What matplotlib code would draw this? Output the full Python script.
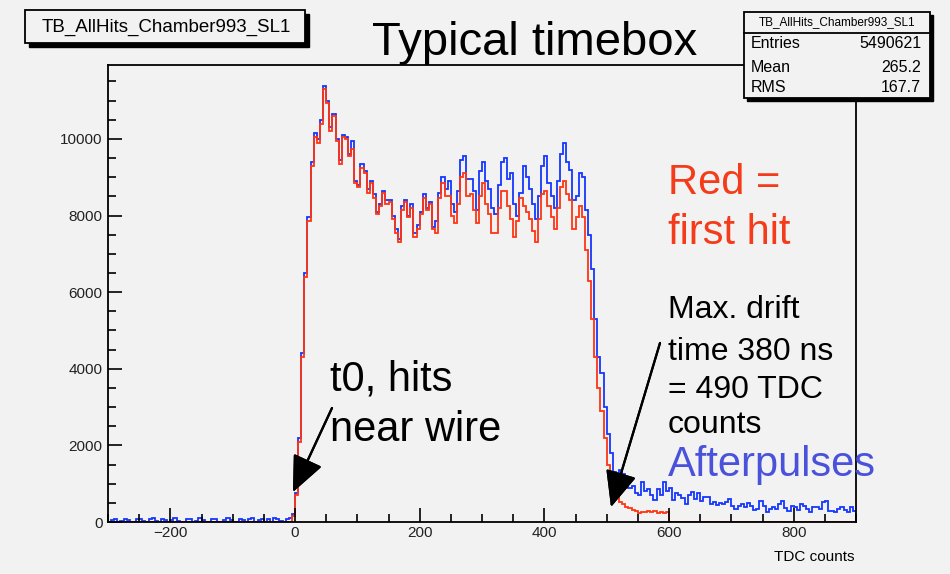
import numpy as np
import matplotlib
matplotlib.use('Agg')
import matplotlib.pyplot as plt
from matplotlib.patches import Rectangle
from matplotlib.ticker import MultipleLocator

W, H = 950, 574
bg = '#f2f2f2'
red_c = '#ff3514'
blue_c = '#1537ff'
sans = ['Liberation Sans', 'DejaVu Sans']

# histogram bins: 5 TDC counts wide, from -300 to 900
bin_w = 5
x_lo, x_hi = -300, 900

# first hit (red), bins starting at -5
red_start = -5
red_vals = [150, 700, 2100, 4300, 6400, 7850, 9300, 10050, 9900, 10400,
            11300, 10950, 10200, 10600, 9950, 9350, 10050, 10000, 9550, 9750,
            8850, 8750, 9250, 9100, 8600, 8850, 8450, 8050, 8250, 8600,
            8300, 8350, 7900, 7550, 7300, 8150, 8350, 7950, 8200, 7450,
            7650, 8050, 8450, 8150, 8300, 7650, 7550, 8450, 8850, 8500,
            8500, 8000, 7800, 8300, 9000, 9100, 8500, 8550, 8150, 7800,
            8500, 8850, 8300, 8050, 7550, 7550, 8200, 8650, 8650, 8250,
            7900, 7450, 7850, 8450, 8250, 8100, 7900, 7600, 7300, 7900,
            8550, 8650, 8250, 7950, 7650, 8200, 8750, 8900, 8550, 8400,
            7650, 7950, 8250, 7950, 7100, 6300, 5300, 4300, 3500, 2900,
            2200, 1500, 1000, 800, 650, 520, 460, 400, 360, 320,
            300, 240, 270, 250, 280, 260, 280, 240, 270, 240,
            260]

# all hits (blue), bins starting at -300
blue_start = -300
blue_vals = [0, 60, 90, 0, 30, 90, 40, 0, 0, 80, 90, 20, 0, 70, 100, 30,
             0, 90, 60, 0, 40, 100, 30, 0, 0, 80, 90, 0, 20, 100, 60, 0,
             0, 90, 80, 10, 0, 60, 100, 40, 0, 0, 90, 60, 0, 80, 100, 0,
             40, 90, 0, 70, 0, 100, 90, 30, 0, 80, 110, 200,
             750, 2200, 4400, 6500, 7950, 9400, 10150, 10000, 10500, 11380,
             11000, 10300, 10650, 10000, 9450, 10100, 10050, 9600, 9950, 8900,
             8800, 9350, 9150, 8700, 8900, 8550, 8100, 8300, 8650, 8400,
             8400, 8000, 7650, 7400, 8250, 8400, 8000, 8300, 7550, 7750,
             8100, 8550, 8200, 8350, 7700, 7850, 8600, 9000, 8700, 8900,
             8300, 8100, 8650, 9450, 9550, 8950, 8950, 8650, 8150, 9150,
             9400, 8900, 8700, 8200, 8050, 8800, 9400, 9500, 8950, 9100,
             8300, 8000, 8600, 9300, 9000, 8700, 8300, 7900, 8500, 9300,
             9550, 8850, 8500, 8200, 8900, 9600, 9900, 9400, 9200, 8400,
             8500, 9100, 9000, 8150, 7500, 6600, 5300, 4300, 3900, 3000,
             2300, 1800, 1300, 1050, 1350, 1250, 1000, 900, 950, 750,
             700, 1050, 800, 850, 700, 580, 850, 700, 1050, 800,
             900, 580, 750, 700, 620, 480, 700, 780, 600, 750,
             560, 650, 660, 480, 520, 440, 500, 480, 520, 600,
             420, 340, 420, 460, 400, 490, 430, 310, 330, 560,
             420, 270, 340, 380, 350, 470, 560, 360, 300, 420,
             390, 310, 470, 420, 350, 260, 400, 390, 340, 530,
             560, 300, 290, 250, 350, 380, 310, 260, 400, 280]

edges = np.arange(x_lo, x_hi + bin_w, bin_w)
n_bins = len(edges) - 1
red = np.zeros(n_bins)
i0 = (red_start - x_lo) // bin_w
red[i0:i0 + len(red_vals)] = red_vals
blue = np.zeros(n_bins)
j0 = (blue_start - x_lo) // bin_w
blue[j0:j0 + len(blue_vals)] = blue_vals


def fx(px):
    return px / W


def fy(py):
    return 1 - py / H


fig = plt.figure(figsize=(W / 100, H / 100), dpi=100, facecolor=bg)
ax = fig.add_axes([fx(108), fy(522), fx(856) - fx(108), fy(65) - fy(522)])
ax.set_facecolor(bg)

ax.stairs(blue, edges, color=blue_c, lw=1.3)
ax.stairs(red, edges, color=red_c, lw=1.3)

ax.set_xlim(x_lo, x_hi)
ax.set_ylim(0, 11930)
ax.xaxis.set_major_locator(MultipleLocator(200))
ax.xaxis.set_minor_locator(MultipleLocator(50))
ax.yaxis.set_major_locator(MultipleLocator(2000))
ax.yaxis.set_minor_locator(MultipleLocator(500))
ax.tick_params(which='both', direction='in', top=False, right=False,
               width=1.2, color='k')
ax.tick_params(axis='x', which='major', length=10, pad=3)
ax.tick_params(axis='x', which='minor', length=5.5)
ax.tick_params(axis='y', which='major', length=10, pad=4)
ax.tick_params(axis='y', which='minor', length=5.5)
for lab in ax.get_xticklabels() + ax.get_yticklabels():
    lab.set_family(sans)
    lab.set_fontsize(11)
    lab.set_color('#222222')
for s in ax.spines.values():
    s.set_linewidth(1.3)

fig.text(fx(855), fy(557), 'TDC counts', ha='right', va='center',
         family=sans, fontsize=11)


# ROOT style boxes with a drop shadow
def root_box(x0, y0, x1, y1, sh):
    fig.add_artist(Rectangle((fx(x0 + sh), fy(y1 + sh)), fx(x1 - x0), fy(y0) - fy(y1),
                             transform=fig.transFigure, facecolor='k', edgecolor='k'))
    fig.add_artist(Rectangle((fx(x0), fy(y1)), fx(x1 - x0), fy(y0) - fy(y1),
                             transform=fig.transFigure, facecolor=bg, edgecolor='k', lw=1.3))


root_box(25, 10, 305, 43, 4)
fig.text(fx(166), fy(27), 'TB_AllHits_Chamber993_SL1', ha='center', va='center',
         family=sans, fontsize=13.5)

root_box(744, 12, 930, 98, 3)
fig.add_artist(plt.Line2D([fx(744), fx(930)], [fy(33), fy(33)], color='k', lw=1.3))
fig.text(fx(837), fy(22), 'TB_AllHits_Chamber993_SL1', ha='center', va='center',
         family=sans, fontsize=8.5)
stats = [('Entries', '5490621', 44), ('Mean', '265.2', 67), ('RMS', '167.7', 88)]
for name, val, py in stats:
    fig.text(fx(751), fy(py), name, ha='left', va='center', family=sans, fontsize=11.5)
    fig.text(fx(921), fy(py), val, ha='right', va='center', family=sans, fontsize=11.5)

# slide annotations
fig.text(fx(535), fy(43), 'Typical timebox', ha='center', va='center',
         family=sans, fontsize=34)
fig.text(fx(668), fy(183), 'Red =', ha='left', va='center', family=sans,
         fontsize=30, color='#f53c1a')
fig.text(fx(668), fy(233), 'first hit', ha='left', va='center', family=sans,
         fontsize=30, color='#f53c1a')
for txt, py in [('Max. drift', 310), ('time 380 ns', 352), ('= 490 TDC', 390), ('counts', 425)]:
    fig.text(fx(668), fy(py), txt, ha='left', va='center', family=sans, fontsize=23)
fig.text(fx(668), fy(465), 'Afterpulses', ha='left', va='center', family=sans,
         fontsize=30, color='#4a52dc')
fig.text(fx(330), fy(380), 't0, hits', ha='left', va='center', family=sans, fontsize=30)
fig.text(fx(330), fy(430), 'near wire', ha='left', va='center', family=sans, fontsize=30)

arrow = dict(arrowstyle='-|>,head_length=1.6,head_width=0.7', mutation_scale=14,
             color='k', lw=1.6, shrinkA=0, shrinkB=0)
fig.add_artist(plt.annotate('', xy=(fx(293), fy(492)), xytext=(fx(332), fy(408)),
                            xycoords='figure fraction', textcoords='figure fraction',
                            arrowprops=arrow))
fig.add_artist(plt.annotate('', xy=(fx(611), fy(507)), xytext=(fx(660), fy(343)),
                            xycoords='figure fraction', textcoords='figure fraction',
                            arrowprops=arrow))

plt.savefig('out.png', dpi=100, facecolor=bg)
